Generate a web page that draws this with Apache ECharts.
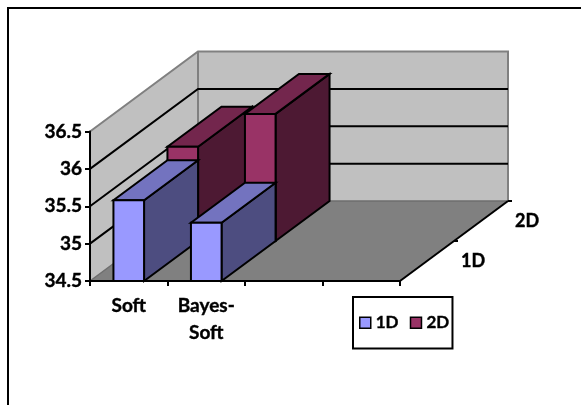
<!DOCTYPE html>
<html>
<head>
<meta charset="utf-8">
<style>html,body{margin:0;padding:0;background:#fff}#chart{width:581px;height:405px}</style>
<script src="https://cdn.jsdelivr.net/npm/echarts@6/dist/echarts.min.js"></script>
</head>
<body>
<div id="chart"></div>
<script>
// Chart values
const categories = ['Soft', 'Bayes-\nSoft', '', ''];
const depthNames = ['1D', '2D'];
const values1D = [35.58, 35.28];
const values2D = [35.76, 36.2];
const valueTicks = [34.5, 35, 35.5, 36, 36.5];

// Oblique projection: one depth slot moves a point right and up by this many pixels
const DEPTH_DX = 54;
const DEPTH_DY = -40;
const BAR_RATIO = 0.395;
const FONT = 'Lato';
const EDGE = 2;
// Thin outline that gives the labels a heavier bold
const HEAVY = { textBorderColor: '#000', textBorderWidth: 0.4 };

const shift = (p, depth) => [p[0] + depth * DEPTH_DX, p[1] + depth * DEPTH_DY];
const poly = (points, fill, stroke, width) => ({
  type: 'polygon',
  shape: { points },
  style: { fill, stroke: stroke || 'none', lineWidth: width || 0 }
});
const line = (points, stroke, width) => ({
  type: 'polyline',
  shape: { points },
  style: { fill: 'none', stroke, lineWidth: width }
});

// Walls, floor, gridlines and the depth axis
function renderBox(params, api) {
  const tick = api.value(1);
  const slot = api.size([1, 0])[0];
  const left = api.coord([0, tick])[0] - slot / 2;
  const right = left + slot * categories.length;
  const depth = depthNames.length;
  const at = (x, v) => [x, api.coord([0, v])[1]];
  const min = valueTicks[0];
  const max = valueTicks[valueTicks.length - 1];
  const children = [];
  if (tick === min) {
    const fl = at(left, min), fr = at(right, min);
    const tl = at(left, max), tr = at(right, max);
    children.push(
      poly([fl, shift(fl, depth), shift(tl, depth), tl], '#c0c0c0'),
      poly([shift(fl, depth), shift(fr, depth), shift(tr, depth), shift(tl, depth)], '#c0c0c0'),
      poly([fl, fr, shift(fr, depth), shift(fl, depth)], '#808080'),
      line([fl, shift(fl, depth), shift(fr, depth)], '#6e6e6e', 1.5),
      line([shift(fl, depth), shift(tl, depth)], '#808080', 2),
      line([tl, shift(tl, depth), shift(tr, depth), shift(fr, depth)], '#808080', 2),
      line([fr, shift(fr, depth)], '#000', 2)
    );
    depthNames.forEach((name, i) => {
      const edge = shift(fr, i + 1);
      children.push(line([edge, [edge[0] + 4, edge[1]]], '#000', 2));
      const mid = shift(fr, i + 0.5);
      children.push({
        type: 'text',
        style: {
          text: name, x: mid[0] + 46, y: mid[1], align: 'center', verticalAlign: 'middle',
          fill: '#000', stroke: '#000', lineWidth: HEAVY.textBorderWidth, font: 'bold 18px ' + FONT
        }
      });
    });
  } else if (tick !== max) {
    const a = at(left, tick);
    const b = at(right, tick);
    children.push(line([a, shift(a, depth), shift(b, depth)], '#000', 2));
  }
  return { type: 'group', children };
}

// One solid bar: side and top faces first, front face over them
function barRenderer(depthIndex, colors) {
  return function (params, api) {
    const top = api.coord([api.value(0), api.value(1)]);
    const base = api.coord([api.value(0), valueTicks[0]]);
    const half = api.size([1, 0])[0] * BAR_RATIO / 2;
    const tl = shift([top[0] - half, top[1]], depthIndex);
    const tr = shift([top[0] + half, top[1]], depthIndex);
    const bl = shift([base[0] - half, base[1]], depthIndex);
    const br = shift([base[0] + half, base[1]], depthIndex);
    return {
      type: 'group',
      children: [
        poly([br, shift(br, 1), shift(tr, 1), tr], colors.side, '#000', EDGE),
        poly([tl, tr, shift(tr, 1), shift(tl, 1)], colors.top, '#000', EDGE),
        poly([bl, br, tr, tl], colors.front, '#000', EDGE)
      ]
    };
  };
}

const colors1D = { front: '#9999ff', top: '#7373bf', side: '#4d4d80' };
const colors2D = { front: '#993366', top: '#73264d', side: '#4d1933' };

const barSeries = (name, values, depthIndex, colors) => ({
  type: 'custom',
  name,
  coordinateSystem: 'cartesian2d',
  clip: false,
  itemStyle: { color: colors.front },
  encode: { x: 0, y: 1 },
  data: values.map((v, i) => [i, v]),
  renderItem: barRenderer(depthIndex, colors)
});

const chart = echarts.init(document.getElementById('chart'), null, { renderer: 'canvas' });
chart.setOption({
  animation: false,
  textStyle: { fontFamily: FONT },
  grid: { left: 90, top: 131.5, width: 310, height: 149.5 },
  xAxis: {
    type: 'category',
    data: categories,
    z: 5,
    axisLine: { lineStyle: { color: '#000', width: 2 } },
    axisTick: { show: true, alignWithLabel: false, length: 5, lineStyle: { color: '#000', width: 2 } },
    axisLabel: {
      interval: 0, margin: 11, color: '#000', fontWeight: 'bold', fontSize: 19,
      fontFamily: FONT, lineHeight: 27, ...HEAVY
    }
  },
  yAxis: {
    type: 'value',
    min: valueTicks[0],
    max: valueTicks[valueTicks.length - 1],
    interval: 0.5,
    z: 5,
    splitLine: { show: false },
    axisLine: { show: true, lineStyle: { color: '#000', width: 2 } },
    axisTick: { show: true, length: 5, lineStyle: { color: '#000', width: 2 } },
    axisLabel: { margin: 8, color: '#000', fontWeight: 'bold', fontSize: 19, fontFamily: FONT, ...HEAVY }
  },
  legend: {
    data: depthNames,
    left: 353,
    top: 297,
    orient: 'horizontal',
    icon: 'rect',
    itemWidth: 11,
    itemHeight: 11,
    itemGap: 11,
    padding: [17, 3, 17, 6],
    borderColor: '#000',
    borderWidth: 2,
    itemStyle: { borderColor: '#000', borderWidth: 1.5 },
    textStyle: { color: '#000', fontWeight: 'bold', fontSize: 17, fontFamily: FONT, ...HEAVY }
  },
  graphic: [{
    type: 'polyline',
    z: 10,
    shape: { points: [[8, 405], [8, 8], [581, 8]] },
    style: { fill: 'none', stroke: '#000', lineWidth: 2 }
  }],
  series: [
    {
      type: 'custom',
      name: 'box',
      coordinateSystem: 'cartesian2d',
      clip: false,
      encode: { x: 0, y: 1 },
      data: valueTicks.map(v => [0, v]),
      renderItem: renderBox,
      silent: true
    },
    barSeries('2D', values2D, 1, colors2D),
    barSeries('1D', values1D, 0, colors1D)
  ]
});
</script>
</body>
</html>
